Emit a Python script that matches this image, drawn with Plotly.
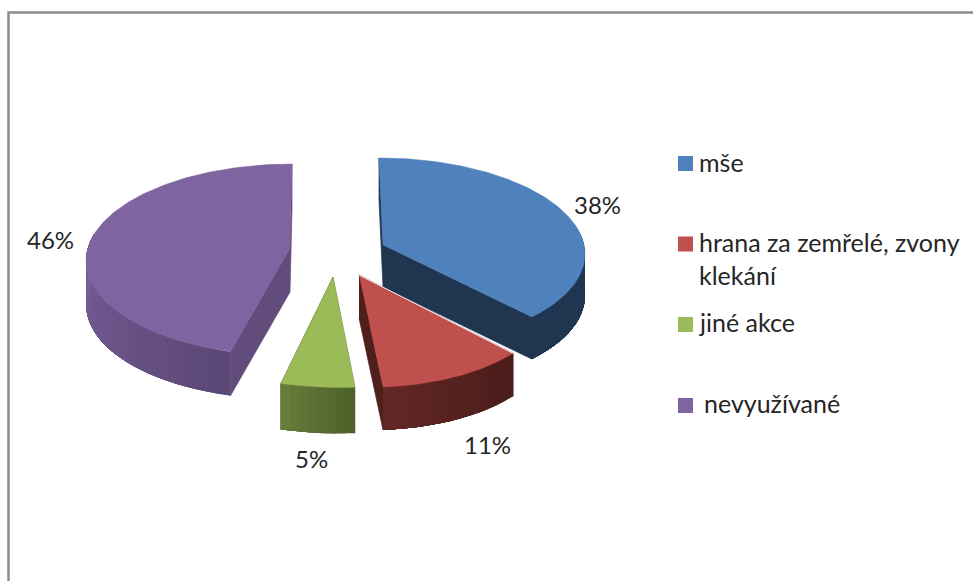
import numpy as np
import plotly.graph_objects as go

categories = ["mše", "hrana za zemřelé, zvony\nklekání", "jiné akce", "nevyužívané"]
values = [38, 11, 5, 46]
top_colors = ["#4f81bd", "#c0504d", "#9bbb59", "#8064a2"]
cut_colors = ["#1f3550", "#4f1f1c", "#56692f", "#624c7c"]
side_dark = ["#1f3550", "#4a1c1a", "#4e6229", "#5c4876"]
side_light = ["#1f3550", "#622725", "#667c3b", "#7b619d"]

# projection of each exploded slice: apex x, apex y, radius, vertical radius, perspective, lean, depth
apex_x = [383, 359, 333, 290]
apex_y = [245, 275, 277, 248]
radius = [201, 193, 204.5, 202]
radius_v = [93.5, 96.5, 95, 94.3]
persp = [0.0742, 0.14, 0.14, 0.1225]
lean = [0.046, 0.0889, 0.0633, -0.024]
depth = [42, 43, 46, 44]

legend_x_box = 685.5
legend_y_box = [163.5, 244, 324.5, 405.5]
legend_text_x = [697, 697, 697, 702]
legend_text_y = [[162], [242, 275], [322], [403]]
pct_x = [597, 487, 311, 50]
pct_y = [204, 444, 458, 239]
FONT = "Lato"
TEXT = "#262626"


def hex2rgb(c):
    return np.array([int(c[i:i + 2], 16) for i in (1, 3, 5)], float)


def mix(a, b, t):
    r = hex2rgb(a) * (1 - t) + hex2rgb(b) * t
    return "rgb(%d,%d,%d)" % tuple(r.round())


def project(i, th):
    X, Y = np.sin(th), -np.cos(th)
    s = 1 / (1 - persp[i] * Y)
    dy = radius_v[i] * Y * s
    return apex_x[i] + radius[i] * X * s + lean[i] * dy, apex_y[i] + dy


def poly(xs, ys, color, lw=0.7):
    return go.Scatter(x=list(xs), y=list(ys), mode="lines", fill="toself", fillcolor=color,
                      line=dict(color=color, width=lw), hoverinfo="skip", showlegend=False)


fig = go.Figure()
edges = np.cumsum([0] + values) / sum(values) * 2 * np.pi

for i in range(len(values)):
    a, b = edges[i], edges[i + 1]
    d = depth[i]
    ax, ay = apex_x[i], apex_y[i]
    # flat cut faces
    for th in (a, b):
        ex, ey = project(i, th)
        fig.add_trace(poly([ax, ex, ex, ax], [ay, ey, ey + d, ay + d], cut_colors[i]))
    # outer curved wall: nested strips, each covering the rest of the arc, so no seams show
    n = max(8, int((b - a) / np.radians(3)))
    ths = np.linspace(a, b, n + 1)
    ths = ths[-np.cos(ths) > -0.2]
    for k in range(len(ths) - 1):
        xs, ys = project(i, ths[k:])
        t = k / max(1, len(ths) - 2)
        fig.add_trace(poly(np.r_[xs, xs[::-1]], np.r_[ys, ys[::-1] + d],
                           mix(side_dark[i], side_light[i], t), 0))
    # top face
    xs, ys = project(i, np.linspace(a, b, 160))
    fig.add_trace(poly(np.r_[ax, xs], np.r_[ay, ys], top_colors[i], 0.5))

# thin light edge between the red slice and the blue wall
ex, ey = project(1, edges[1])
fig.add_trace(go.Scatter(x=[apex_x[1], ex], y=[apex_y[1], ey], mode="lines",
                         line=dict(color="#f4efee", width=1), hoverinfo="skip", showlegend=False))

# legend keys
fig.add_trace(go.Scatter(x=[legend_x_box] * 4, y=legend_y_box, mode="markers",
                         marker=dict(symbol="square", size=15, color=top_colors, line=dict(width=0)),
                         hoverinfo="skip", showlegend=False))

annotations = []
for i, cat in enumerate(categories):
    for line, y in zip(cat.split("\n"), legend_text_y[i]):
        annotations.append(dict(x=legend_text_x[i], y=y, text=line, xanchor="left", yanchor="middle",
                                showarrow=False, font=dict(family=FONT, size=25, color=TEXT)))
    annotations.append(dict(x=pct_x[i], y=pct_y[i], text=f"{values[i]}%", xanchor="center", yanchor="middle",
                            showarrow=False, font=dict(family=FONT, size=24, color=TEXT)))

fig.update_layout(
    width=973, height=581, margin=dict(l=0, r=0, t=0, b=0),
    paper_bgcolor="white", plot_bgcolor="white", showlegend=False,
    xaxis=dict(range=[0, 973], visible=False, fixedrange=True),
    yaxis=dict(range=[581, 0], visible=False, fixedrange=True),
    annotations=annotations,
    shapes=[dict(type="path", path="M 8.5 581 L 8.5 12.5 L 973 12.5", line=dict(color="#8c8c8c", width=2.5),
                 layer="below")],
)
fig.write_html("out.html", config={"displayModeBar": False},
               post_script="document.body.style.margin='0';document.body.style.overflow='hidden';")
